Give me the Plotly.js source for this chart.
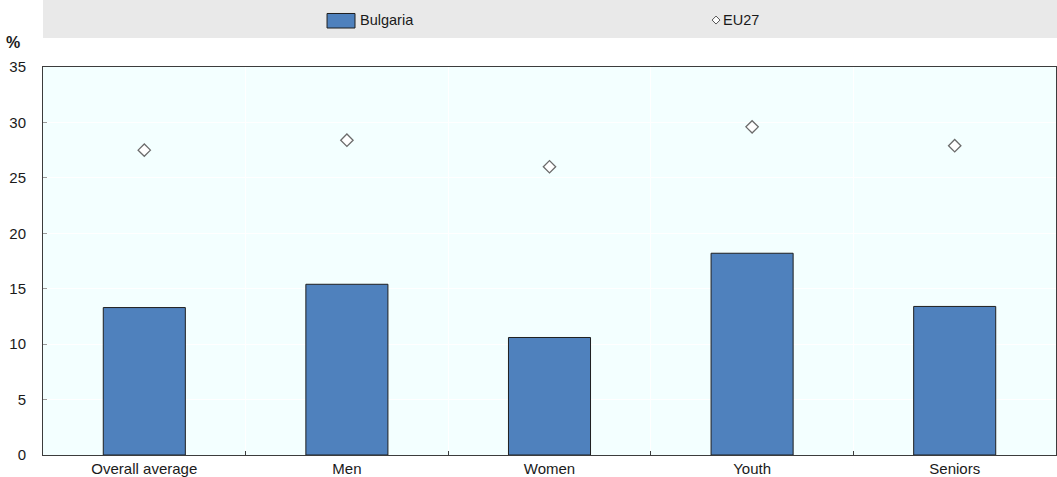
<!DOCTYPE html>
<html>
<head>
<meta charset="utf-8">
<script src="https://cdn.plot.ly/plotly-3.0.1.min.js"></script>
<style>
  html, body { margin: 0; padding: 0; background: #ffffff; }
  #chart { width: 1057px; height: 477px; }
</style>
</head>
<body>
<div id="chart"></div>
<script>
// Groups along the x axis
const categories = ["Overall average", "Men", "Women", "Youth", "Seniors"];
// Bulgaria (bars), in %
const bulgaria = [13.3, 15.4, 10.6, 18.2, 13.4];
// EU27 (diamond markers), in %
const eu27 = [27.5, 28.4, 26.0, 29.6, 27.9];
// Y axis ticks
const yTicks = [0, 5, 10, 15, 20, 25, 30, 35];

const FONT = "Liberation Sans, Arial, sans-serif";
const TEXT = "#1a1a1a";

const traces = [
  {
    type: "bar",
    name: "Bulgaria",
    x: categories,
    y: bulgaria,
    marker: { color: "#4F81BD", line: { color: "#1f1f1f", width: 1 } },
    showlegend: false,
    hoverinfo: "x+y+name"
  },
  {
    type: "scatter",
    mode: "markers",
    name: "EU27",
    x: categories,
    y: eu27,
    marker: { symbol: "diamond", size: 9.5, color: "#ffffff", line: { color: "#6b6b6b", width: 1.3 } },
    showlegend: false,
    hoverinfo: "x+y+name"
  }
];

// Legend strip drawn above the plot area (paper coordinates)
const legendY = 1.121;
const shapes = [
  { type: "rect", xref: "paper", yref: "paper", x0: 0, x1: 1.001, y0: 1.0747, y1: 1.175,
    fillcolor: "#e9e9e9", line: { width: 0 }, layer: "below" },
  { type: "rect", xref: "paper", yref: "paper", x0: 0.2804, x1: 0.308, y0: 1.1005, y1: 1.1379,
    fillcolor: "#4F81BD", line: { color: "#1f1f1f", width: 1 } },
  { type: "path", xref: "paper", yref: "paper",
    path: "M 0.6644 " + (legendY + 0.0103) + " L " + (0.6644 + 0.0039) + " " + legendY +
          " L 0.6644 " + (legendY - 0.0103) + " L " + (0.6644 - 0.0039) + " " + legendY + " Z",
    fillcolor: "#ffffff", line: { color: "#555555", width: 1 } }
];

const annotations = [
  { text: "Bulgaria", xref: "paper", yref: "paper", x: 0.3105, y: legendY,
    xanchor: "left", yanchor: "middle", showarrow: false,
    font: { family: FONT, size: 14.5, color: TEXT } },
  { text: "EU27", xref: "paper", yref: "paper", x: 0.6693, y: legendY,
    xanchor: "left", yanchor: "middle", showarrow: false,
    font: { family: FONT, size: 14.5, color: TEXT } },
  { text: "<b>%</b>", xref: "paper", yref: "paper", x: -0.0296, y: 1.0644,
    xanchor: "center", yanchor: "middle", showarrow: false,
    font: { family: FONT, size: 16, color: TEXT } }
];

const layout = {
  width: 1057,
  height: 477,
  margin: { l: 43, r: 1, t: 67, b: 22, pad: 0 },
  paper_bgcolor: "#ffffff",
  plot_bgcolor: "#F3FFFF",
  bargap: 0.595,
  showlegend: false,
  font: { family: FONT, size: 15, color: TEXT },
  xaxis: {
    type: "category",
    tickson: "boundaries",
    ticks: "inside",
    ticklen: 4,
    tickcolor: "#3c3c3c",
    showgrid: true,
    gridcolor: "#ffffff",
    gridwidth: 1,
    showline: true,
    linecolor: "#3c3c3c",
    linewidth: 1,
    mirror: true,
    tickfont: { family: FONT, size: 15, color: TEXT },
    fixedrange: true
  },
  yaxis: {
    range: [0, 35],
    tickvals: yTicks,
    ticktext: yTicks.map(String),
    ticks: "inside",
    ticklen: 4,
    tickcolor: "#9a9a9a",
    ticklabelstandoff: 13,
    showgrid: true,
    gridcolor: "#ffffff",
    gridwidth: 1,
    zeroline: false,
    showline: true,
    linecolor: "#3c3c3c",
    linewidth: 1,
    mirror: true,
    tickfont: { family: FONT, size: 15, color: TEXT },
    fixedrange: true
  },
  shapes: shapes,
  annotations: annotations
};

Plotly.newPlot("chart", traces, layout, { displayModeBar: false, staticPlot: true });
</script>
</body>
</html>
